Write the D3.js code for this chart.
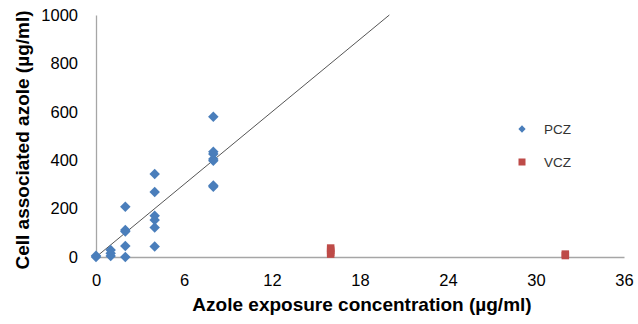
<!DOCTYPE html>
<html>
<head>
<meta charset="utf-8">
<script src="https://cdn.jsdelivr.net/npm/d3@7"></script>
<style>
  body { margin: 0; background: #fff; }
  text { font-family: "Liberation Sans", Arial, sans-serif; }
</style>
</head>
<body>
<div id="chart"></div>
<script>
// data
let pczX = [0, 0, 1, 1, 1, 2, 2, 2, 2, 2, 4, 4, 4, 4, 4, 4, 8, 8, 8, 8, 8, 8, 8];
let pczY = [0, 5, 4, 15, 29, 0, 45, 105, 112, 208, 43, 122, 153, 170, 269, 343, 290, 295, 398, 405, 426, 435, 580];
let vczX = [16, 16, 16, 16, 32, 32];
let vczY = [12, 20, 28, 37, 6, 12];
let fitLine = [[0, 0], [20, 1000]];
let xTicks = [0, 6, 12, 18, 24, 30, 36];
let yTicks = [0, 200, 400, 600, 800, 1000];
let seriesNames = ['PCZ', 'VCZ'];

let width = 638, height = 324;
let margin = {top: 15, right: 14, bottom: 67, left: 96};

let svg = d3.select('#chart').append('svg')
  .attr('width', width)
  .attr('height', height);

let x = d3.scaleLinear().domain([0, 36]).range([margin.left, width - margin.right]);
let y = d3.scaleLinear().domain([0, 1000]).range([height - margin.bottom, margin.top]);

// axes
let xAxis = svg.append('g')
  .attr('transform', `translate(0, ${y(0)})`)
  .call(d3.axisBottom(x).tickValues(xTicks).tickSize(0).tickPadding(17).tickFormat(d3.format('d')));
let yAxis = svg.append('g')
  .attr('transform', `translate(${x(0)}, 0)`)
  .call(d3.axisLeft(y).tickValues(yTicks).tickSize(0).tickPadding(18).tickFormat(d3.format('d')));

[xAxis, yAxis].forEach(a => {
  a.select('.domain').attr('stroke', '#a6a6a6').attr('stroke-width', 1.3);
  a.selectAll('text').attr('font-size', 16.5).attr('fill', '#000')
    .attr('font-family', '"Liberation Sans", Arial, sans-serif');
});

// trend line
svg.append('line')
  .attr('x1', x(fitLine[0][0])).attr('y1', y(fitLine[0][1]))
  .attr('x2', x(fitLine[1][0])).attr('y2', y(fitLine[1][1]))
  .attr('stroke', '#555').attr('stroke-width', 1);

let diamond = d3.symbol().type(d3.symbolDiamond2).size(70);

// PCZ points
svg.append('g').selectAll('path')
  .data(pczX.map((d, i) => [d, pczY[i]]))
  .enter().append('path')
    .attr('d', diamond)
    .attr('transform', d => `translate(${x(d[0])}, ${y(d[1])})`)
    .attr('fill', '#4a7ebb');

// VCZ points
let sq = 7.5;
svg.append('g').selectAll('rect')
  .data(vczX.map((d, i) => [d, vczY[i]]))
  .enter().append('rect')
    .attr('x', d => x(d[0]) - sq / 2)
    .attr('y', d => y(d[1]) - sq / 2)
    .attr('width', sq).attr('height', sq)
    .attr('fill', '#be4b48');

// legend
let legend = svg.selectAll('.legend')
  .data(seriesNames)
  .enter().append('g')
    .attr('class', 'legend')
    .attr('transform', (d, i) => `translate(522, ${129 + i * 33})`);

legend.filter(d => d === 'PCZ').append('path')
  .attr('d', d3.symbol().type(d3.symbolDiamond2).size(34)())
  .attr('fill', '#4a7ebb');
legend.filter(d => d === 'VCZ').append('rect')
  .attr('x', -3.5).attr('y', -3.5).attr('width', 7).attr('height', 7)
  .attr('fill', '#be4b48');
legend.append('text')
  .attr('x', 22).attr('y', 5)
  .attr('font-size', 13.5)
  .attr('fill', '#333')
  .text(d => d);

// axis titles
svg.append('text')
  .attr('x', 362)
  .attr('y', 311)
  .attr('text-anchor', 'middle')
  .attr('font-size', 19)
  .attr('font-weight', 'bold')
  .text('Azole exposure concentration (µg/ml)');

svg.append('text')
  .attr('transform', `translate(29, 140) rotate(-90)`)
  .attr('text-anchor', 'middle')
  .attr('font-size', 19)
  .attr('font-weight', 'bold')
  .text('Cell associated azole (µg/ml)');
</script>
</body>
</html>
